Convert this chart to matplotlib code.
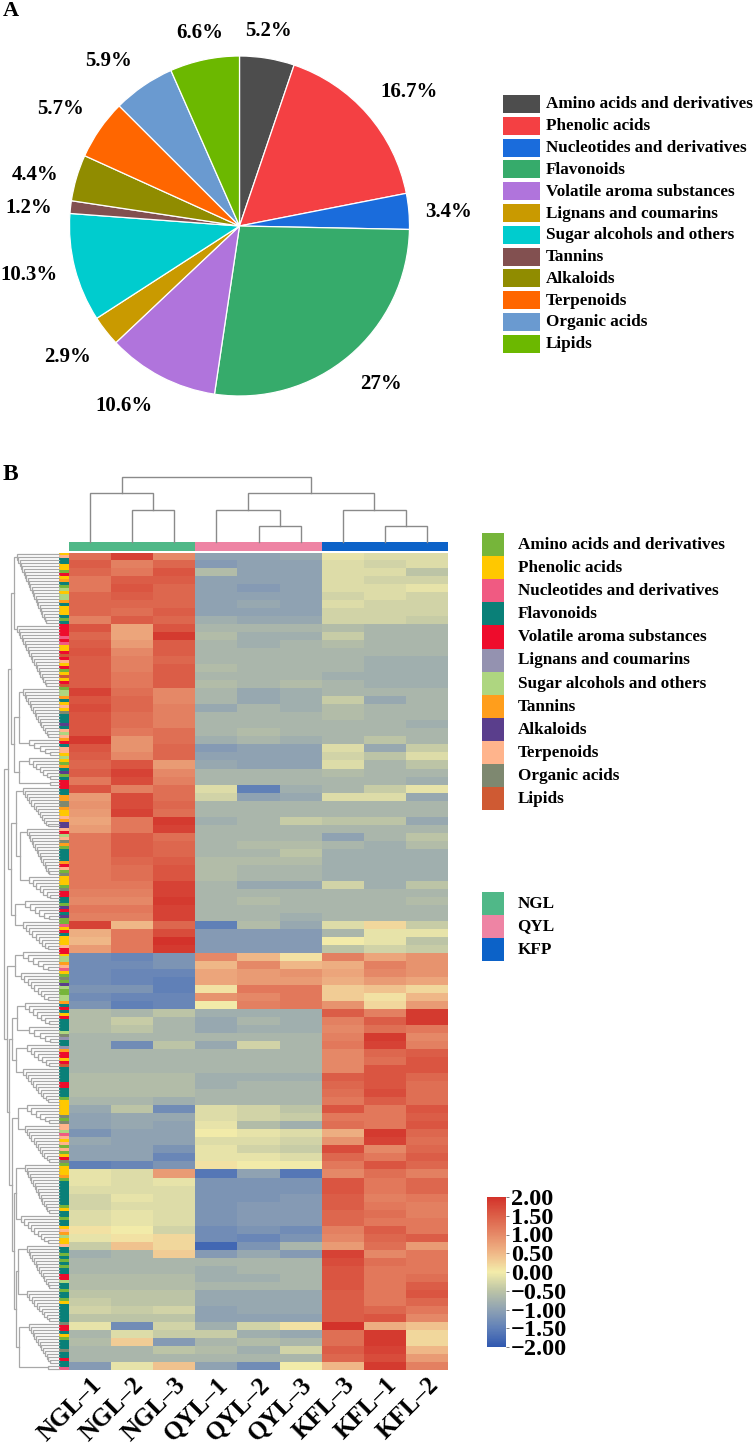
import numpy as np
import matplotlib
matplotlib.use('Agg')
import matplotlib.pyplot as plt
from matplotlib.colors import LinearSegmentedColormap, ListedColormap
from matplotlib.patches import Rectangle
from matplotlib.transforms import ScaledTranslation

plt.rcParams['font.family'] = ['Liberation Serif', 'DejaVu Serif']
plt.rcParams['font.weight'] = 'bold'

W, H = 754, 1446

# panel A data
classes = ['Amino acids and derivatives', 'Phenolic acids', 'Nucleotides and derivatives',
           'Flavonoids', 'Volatile aroma substances', 'Lignans and coumarins',
           'Sugar alcohols and others', 'Tannins', 'Alkaloids', 'Terpenoids',
           'Organic acids', 'Lipids']
percent = [5.2, 16.7, 3.4, 27, 10.6, 2.9, 10.3, 1.2, 4.4, 5.7, 5.9, 6.6]
pie_colors = ['#4d4d4d', '#f44043', '#1a6cdc', '#36ab6b', '#b074dc', '#c99a00',
              '#00ccce', '#825050', '#908c00', '#ff6600', '#6a9ad0', '#6cb800']

# panel B data, one list per stretch of rows
samples = ['NGL–1', 'NGL–2', 'NGL–3', 'QYL–1', 'QYL–2', 'QYL–3', 'KFL–3', 'KFL–1', 'KFL–2']
rows_top = [
    [1.3, 1.8, 1.0, -1.0, -1.0, -0.9, -0.1, -0.2, -0.2],
    [1.5, 1.1, 1.4, -1.1, -1.0, -1.0, -0.2, -0.3, -0.2],
    [1.4, 1.2, 1.6, -0.6, -1.0, -1.0, -0.2, -0.2, -0.5],
    [1.2, 1.5, 1.5, -1.0, -1.0, -1.0, -0.2, -0.3, -0.3],
    [1.2, 1.6, 1.4, -1.0, -1.1, -1.0, -0.2, -0.2, -0.1],
    [1.4, 1.5, 1.4, -1.0, -1.0, -1.0, -0.3, -0.2, -0.3],
    [1.4, 1.4, 1.4, -1.0, -0.9, -1.0, -0.2, -0.3, -0.3],
    [1.4, 1.3, 1.5, -1.0, -1.0, -1.0, -0.3, -0.3, -0.3],
    [1.1, 1.5, 1.4, -0.8, -0.9, -0.9, -0.3, -0.3, -0.4],
]
rows_ngl_a = [
    [1.6, 0.7, 1.6, -0.7, -0.7, -0.7, -0.6, -0.7, -0.7],
    [1.4, 0.7, 1.9, -0.6, -0.8, -0.8, -0.4, -0.7, -0.7],
    [1.5, 0.8, 1.5, -0.7, -0.8, -0.7, -0.6, -0.7, -0.7],
    [1.6, 1.0, 1.5, -0.7, -0.7, -0.7, -0.7, -0.7, -0.7],
    [1.5, 1.1, 1.4, -0.7, -0.7, -0.7, -0.7, -0.8, -0.8],
    [1.5, 1.1, 1.5, -0.6, -0.7, -0.7, -0.7, -0.8, -0.8],
    [1.5, 1.2, 1.5, -0.7, -0.7, -0.7, -0.8, -0.8, -0.8],
    [1.5, 1.2, 1.5, -0.6, -0.7, -0.6, -0.7, -0.8, -0.8],
    [1.8, 1.3, 1.0, -0.7, -0.9, -0.8, -0.7, -0.7, -0.7],
    [1.6, 1.4, 1.0, -0.7, -0.9, -0.8, -0.4, -0.9, -0.7],
    [1.7, 1.4, 1.1, -0.9, -0.7, -0.8, -0.6, -0.7, -0.7],
    [1.6, 1.3, 1.1, -0.7, -0.7, -0.7, -0.6, -0.7, -0.7],
    [1.6, 1.3, 1.1, -0.7, -0.7, -0.7, -0.7, -0.7, -0.8],
    [1.6, 1.2, 1.3, -0.7, -0.6, -0.7, -0.7, -0.7, -0.7],
]
rows_ngl_b = [
    [1.9, 0.9, 1.3, -0.8, -0.7, -0.8, -0.7, -0.5, -0.7],
    [1.6, 0.9, 1.4, -1.1, -1.0, -1.0, -0.2, -0.9, -0.4],
    [1.5, 1.0, 1.4, -1.0, -1.0, -1.0, -0.3, -0.5, -0.2],
    [1.4, 1.6, 0.8, -0.9, -1.0, -1.0, -0.2, -0.7, -0.5],
    [1.5, 1.8, 1.0, -0.7, -0.7, -0.7, -0.6, -0.7, -0.7],
    [1.2, 1.7, 1.1, -0.7, -0.7, -0.7, -0.7, -0.7, -0.8],
    [1.6, 1.1, 1.3, -0.2, -1.5, -0.8, -0.7, -0.4, -0.1],
    [0.8, 1.7, 1.3, -0.3, -1.0, -0.9, -0.2, -0.2, -0.9],
    [0.9, 1.7, 1.4, -0.7, -0.7, -0.7, -0.7, -0.7, -0.7],
    [0.8, 1.8, 1.3, -0.7, -0.7, -0.7, -0.7, -0.7, -0.7],
    [0.7, 1.2, 1.9, -0.8, -0.7, -0.4, -0.5, -0.5, -0.9],
    [0.8, 1.2, 1.8, -0.7, -0.7, -0.7, -0.7, -0.7, -0.7],
    [1.2, 1.5, 1.3, -0.7, -0.7, -0.7, -1.0, -0.7, -0.5],
    [1.2, 1.5, 1.4, -0.7, -0.6, -0.6, -0.7, -0.8, -0.6],
    [1.2, 1.5, 1.4, -0.7, -0.7, -0.5, -0.8, -0.8, -0.8],
    [1.2, 1.4, 1.5, -0.6, -0.6, -0.6, -0.8, -0.8, -0.8],
    [1.2, 1.3, 1.6, -0.6, -0.7, -0.7, -0.8, -0.8, -0.8],
    [1.2, 1.3, 1.6, -0.6, -0.7, -0.7, -0.8, -0.8, -0.8],
    [1.2, 1.2, 1.8, -0.7, -0.9, -0.9, -0.3, -0.8, -0.5],
    [1.1, 1.1, 1.8, -0.7, -0.7, -0.7, -0.7, -0.7, -0.7],
    [1.0, 1.0, 1.9, -0.7, -0.6, -0.7, -0.7, -0.7, -0.6],
    [1.2, 1.2, 1.8, -0.7, -0.7, -0.7, -0.7, -0.7, -0.7],
    [1.1, 1.1, 1.8, -0.7, -0.7, -0.8, -0.7, -0.7, -0.7],
    [1.8, 0.5, 1.4, -1.5, -0.6, -0.9, -0.2, 0.2, -0.4],
    [0.6, 1.2, 1.7, -1.1, -1.1, -1.1, -0.7, -0.1, -0.1],
    [0.5, 1.2, 2.0, -1.1, -1.1, -1.1, -0.0, -0.1, -0.5],
    [0.8, 1.2, 1.9, -1.1, -1.1, -1.1, -0.5, -0.3, -0.4],
]
rows_blue = [
    [-1.3, -1.4, -1.2, 1.0, 0.5, 0.1, 1.1, 0.7, 0.9],
    [-1.3, -1.3, -1.2, 0.5, 1.0, 0.5, 0.6, 1.1, 0.9],
    [-1.3, -1.4, -1.4, 0.7, 0.8, 0.9, 0.7, 1.0, 0.9],
    [-1.3, -1.4, -1.5, 0.7, 0.8, 0.8, 0.6, 0.8, 0.7],
    [-1.2, -1.2, -1.5, 0.1, 1.2, 1.2, 0.3, 0.4, 0.2],
    [-1.3, -1.4, -1.4, 0.9, 1.0, 1.2, 0.3, 0.1, 0.5],
    [-1.2, -1.5, -1.4, 0.0, 1.1, 1.2, 0.9, 0.2, 0.8],
]
rows_kfl_a = [
    [-0.6, -0.7, -0.5, -0.8, -0.8, -0.8, 1.5, 1.1, 1.9],
    [-0.6, -0.4, -0.7, -0.9, -0.7, -0.8, 1.1, 1.5, 1.9],
    [-0.6, -0.5, -0.7, -0.9, -0.8, -0.8, 1.0, 1.3, 1.2],
    [-0.7, -0.7, -0.7, -0.7, -0.7, -0.7, 1.1, 1.9, 1.0],
    [-0.7, -1.3, -0.5, -0.9, -0.3, -0.7, 1.2, 1.8, 1.1],
    [-0.7, -0.7, -0.7, -0.7, -0.7, -0.7, 1.0, 1.4, 1.5],
    [-0.7, -0.7, -0.7, -0.7, -0.7, -0.7, 1.0, 1.3, 1.6],
    [-0.7, -0.7, -0.7, -0.7, -0.7, -0.7, 1.0, 1.6, 1.6],
    [-0.6, -0.6, -0.6, -0.8, -0.8, -0.8, 1.5, 1.6, 1.4],
    [-0.6, -0.6, -0.6, -0.8, -0.7, -0.7, 1.4, 1.6, 1.3],
    [-0.6, -0.6, -0.6, -0.7, -0.7, -0.7, 1.3, 1.7, 1.3],
    [-0.7, -0.7, -0.8, -0.7, -0.7, -0.7, 1.2, 1.5, 1.3],
    [-0.9, -0.5, -1.3, -0.2, -0.3, -0.5, 1.6, 1.2, 1.6],
    [-1.0, -0.9, -0.9, -0.2, -0.3, -0.4, 1.2, 1.2, 1.5],
    [-1.0, -0.9, -1.0, -0.1, -0.6, -0.8, 1.3, 1.2, 1.6],
    [-1.2, -1.0, -1.0, -0.0, -0.1, -0.2, 0.6, 1.9, 1.4],
    [-0.9, -1.0, -1.0, -0.2, -0.2, -0.3, 0.9, 1.8, 1.3],
    [-1.0, -1.0, -1.2, -0.1, -0.3, -0.4, 1.7, 1.0, 1.4],
    [-1.0, -1.0, -1.4, -0.1, -0.1, -0.2, 1.4, 1.2, 1.5],
    [-1.5, -1.4, -1.2, 0.1, -0.0, -0.0, 1.2, 1.6, 1.4],
]
rows_kfl_b = [
    [-0.1, -0.2, 0.8, -1.6, -1.0, -1.6, 1.0, 1.3, 1.1],
    [-0.1, -0.2, -0.1, -1.2, -1.2, -1.2, 1.6, 1.2, 1.4],
    [-0.2, -0.2, -0.2, -1.2, -1.2, -1.2, 1.6, 1.2, 1.4],
    [-0.3, -0.1, -0.2, -1.2, -1.2, -1.1, 1.5, 1.1, 1.2],
    [-0.3, -0.2, -0.2, -1.2, -1.1, -1.1, 1.5, 1.2, 1.1],
    [-0.2, -0.1, -0.2, -1.2, -1.1, -1.1, 1.4, 1.3, 1.1],
    [-0.2, -0.1, -0.2, -1.2, -1.1, -1.1, 1.4, 1.2, 1.2],
    [0.1, 0.0, -0.3, -1.3, -1.2, -1.3, 1.1, 1.5, 1.2],
    [-0.1, 0.1, 0.2, -1.3, -1.4, -1.2, 1.0, 1.4, 1.5],
    [-0.4, 0.4, 0.2, -1.8, -1.2, -0.7, 0.8, 1.3, 0.8],
    [-0.8, -0.7, 0.3, -1.1, -0.9, -1.1, 1.8, 1.0, 1.2],
    [-0.7, -0.7, -0.7, -0.7, -0.7, -0.7, 1.7, 1.3, 1.2],
    [-0.7, -0.7, -0.7, -0.8, -0.7, -0.7, 1.6, 1.2, 1.2],
    [-0.6, -0.6, -0.6, -0.8, -0.8, -0.7, 1.6, 1.2, 1.3],
    [-0.6, -0.6, -0.6, -0.7, -0.7, -0.7, 1.6, 1.2, 1.5],
    [-0.5, -0.5, -0.5, -0.9, -0.9, -0.9, 1.5, 1.2, 1.6],
    [-0.4, -0.5, -0.5, -0.9, -0.9, -0.9, 1.5, 1.2, 1.4],
    [-0.3, -0.4, -0.3, -1.0, -0.9, -0.9, 1.5, 1.4, 1.2],
    [-0.5, -0.5, -0.5, -1.0, -1.0, -1.0, 1.5, 1.6, 1.0],
    [-0.1, -1.3, -0.3, -0.8, -0.3, 0.1, 2.0, 0.6, 0.4],
    [-0.7, -0.2, -0.4, -0.4, -0.8, -0.9, 1.3, 1.9, 0.2],
    [-0.6, 0.3, -1.1, -0.7, -0.6, -0.7, 1.3, 1.9, 0.2],
    [-0.7, -0.7, -0.5, -0.6, -0.8, -0.3, 1.5, 1.8, 0.5],
    [-0.7, -0.7, -0.7, -0.7, -0.7, -0.7, 1.4, 1.7, 0.8],
    [-1.1, -0.1, 0.4, -1.0, -1.3, 0.0, 0.5, 1.9, 1.1],
]

# class of each leaf in the side strip, one letter per leaf
# a amino, p phenolic, n nucleotide, f flavonoid, v volatile, l lignan,
# s sugar, t tannin, k alkaloid, r terpenoid, o organic, i lipid
strip_a = 'prffppavptfaspsstfpppfaf'
strip_b = 'vvvvnvnppvivrpvapipvi'
strip_c = 'asstfprpofffkfrsr'
strip_d = 'tvfrrpspatfkafvvvffttootpprtkk'
strip_e = 'rvsrotafffftvraopppaovvffakvfkaf'[:31]
strip_f = 'anpvfppprv'
strip_g = 'vpsstrnpaoaksaass'
strip_h = 'tfvfpvffffsolfflt' + 'vvpvi'
strip_i = 'fffffvvfffappppp' + 'oao'
strip_j = 'rrsnrprarapvo'
strip_k = 'apppta' + 'ffffffff' + 'apffaffprtspp'
strip_l = 'rffafafaffvvsffaffap' + 'ffffff'
strip_m = 'ovvfpafffoffvffn'
row_strip = (strip_a + strip_b + strip_c + strip_d + strip_e + strip_f + strip_g
             + strip_h + strip_i + strip_j + strip_k + strip_l + strip_m)
class_codes = 'apnfvlstkroi'
strip_colors = ['#76b53a', '#ffc800', '#f05a82', '#0a8078', '#ee0c2c', '#9492b0',
                '#aed680', '#ff9e1c', '#5a3e8c', '#ffb48c', '#7e8870', '#cf5a33']
groups = ['NGL', 'QYL', 'KFP']
group_colors = ['#50b888', '#ee84a4', '#0c62c8']
group_of_sample = [0, 0, 0, 1, 1, 1, 2, 2, 2]
cbar_ticks = [2, 1.5, 1, 0.5, 0, -0.5, -1, -1.5, -2]
cbar_labels = ['2.00', '1.50', '1.00', '0.50', '0.00', '−0.50', '−1.00', '−1.50', '−2.00']

# dendrograms: [height, child, child], (n, height) = ladder of n leaves
L = (1, 0)
col_tree = [4, [3, L, [2, L, L]], [3, [2, L, [1, L, L]], [2, L, [1, L, L]]]]
row_tree_a = [51,
              [48, [45, (24, 42), (21, 42)],
               [45, [40, (17, 36), (6, 30)], [40, (8, 30), (2, 30)]]],
              [48, [43, (14, 36), [39, (16, 32), (8, 30)]],
               [44, (7, 34), (10, 36)]]]
row_tree_b = [52,
              [44, (7, 36), (10, 38)],
              [50, [47, [42, (8, 34), (6, 30)], [43, (8, 32), (12, 36)]],
               [47, [41, (7, 32), (13, 34)],
                [45, [43, (17, 34), (10, 38)],
                 [43, [41, (15, 32), (11, 32)], [40, (14, 30), (2, 38)]]]]]]
row_tree = [55, row_tree_a, row_tree_b]

heat = np.array(rows_top + rows_ngl_a + rows_ngl_b + rows_blue + rows_kfl_a + rows_kfl_b)
cmap = LinearSegmentedColormap.from_list('heat', ['#3058b0', '#6080b8', '#8fa2b3', '#bcc4a6', '#f3ecaa',
                                                  '#f0b888', '#e68a68', '#dc5f48', '#d3322a'])


def px_axes(x0, y0, x1, y1):
    # axes from pixel box, y counted from top of the picture
    return fig.add_axes([x0 / W, 1 - y1 / H, (x1 - x0) / W, (y1 - y0) / H])


def link(ax, h0, p0, h1, p1, h, horizontal, **kw):
    hs = [h0, h, h, h1]
    ps = [p0, p0, p1, p1]
    if horizontal:
        ax.plot(hs, ps, clip_on=False, solid_joinstyle='miter', **kw)
    else:
        ax.plot(ps, hs, clip_on=False, solid_joinstyle='miter', **kw)


def draw_tree(ax, node, cursor, horizontal, **kw):
    # returns position, height, next free leaf
    if isinstance(node, tuple):
        n, top = node
        ys = cursor + np.arange(n) + 0.5
        pos, cur = ys[-1], 0
        if n > 1:
            steps = np.linspace(top * 0.3, top, n - 1)
            for i in range(n - 2, -1, -1):
                link(ax, 0, ys[i], cur, pos, steps[n - 2 - i], horizontal, **kw)
                pos, cur = (ys[i] + pos) / 2, steps[n - 2 - i]
        return pos, cur, cursor + n
    p0, h0, cursor = draw_tree(ax, node[1], cursor, horizontal, **kw)
    p1, h1, cursor = draw_tree(ax, node[2], cursor, horizontal, **kw)
    link(ax, h0, p0, h1, p1, node[0], horizontal, **kw)
    return (p0 + p1) / 2, node[0], cursor


fig = plt.figure(figsize=(W / 100, H / 100), dpi=100)

# overlay in pixels for panel letters, legends and the pie labels
over = fig.add_axes([0, 0, 1, 1], zorder=5)
over.set_xlim(0, W)
over.set_ylim(H, 0)
over.axis('off')

# A) pie
ax_pie = px_axes(69.5, 56, 409.5, 396)
ax_pie.pie(percent, colors=pie_colors, startangle=90, counterclock=False,
           wedgeprops={'edgecolor': 'white', 'linewidth': 0.9})
ax_pie.set_xlim(-1, 1)
ax_pie.set_ylim(-1, 1)

label_pos = [(268, 31), (409, 92), (449, 212), (381, 384), (124, 406), (68, 357),
             (28.5, 275), (29, 208), (35, 175), (61, 109), (109, 61), (200, 33)]
for val, (lx, ly) in zip(percent, label_pos):
    over.text(lx, ly, f'{val}%', fontsize=15, ha='center', va='center')

for i, name in enumerate(classes):
    over.add_patch(Rectangle((503, 95 + 21.8 * i), 37, 18, color=pie_colors[i], lw=0))
    over.text(546, 104.5 + 21.8 * i, name, fontsize=12.3, ha='left', va='center')

over.text(3, 11, 'A', fontsize=16, ha='left', va='center')
over.text(3, 475, 'B', fontsize=17, ha='left', va='center')

# B) clustered heatmap
x0, x1, y0, y1 = 69, 448, 552.5, 1370
ax_heat = px_axes(x0, y0, x1, y1)
im = ax_heat.imshow(heat, cmap=cmap, vmin=-2, vmax=2, aspect='auto', interpolation='nearest')
ax_heat.set_yticks([])
ax_heat.set_xticks(range(len(samples)))
ax_heat.set_xticklabels(samples, fontsize=18, rotation=45, ha='right', va='center', rotation_mode='anchor')
ax_heat.tick_params(axis='x', length=0, pad=8)
shift = ScaledTranslation(0.08, 0, fig.dpi_scale_trans)
for lab in ax_heat.get_xticklabels():
    lab.set_transform(lab.get_transform() + shift)
for s in ax_heat.spines.values():
    s.set_visible(False)

ax_bar = px_axes(x0, 542, x1, 551.5)
ax_bar.imshow([group_of_sample], cmap=ListedColormap(group_colors), aspect='auto', interpolation='nearest')
ax_bar.axis('off')

ax_strip = px_axes(59, y0, 68.5, y1)
strip_idx = [[class_codes.index(c)] for c in row_strip]
ax_strip.imshow(strip_idx, cmap=ListedColormap(strip_colors), vmin=0, vmax=11, aspect='auto', interpolation='nearest')
ax_strip.axis('off')

ax_top = px_axes(x0, 477, x1, 542)
ax_top.set_xlim(0, len(samples))
ax_top.set_ylim(0, 4)
draw_tree(ax_top, col_tree, 0, False, color='#8a8a8a', lw=1.0)
ax_top.axis('off')

ax_left = px_axes(0, y0, 59, y1)
ax_left.set_xlim(59, 0)
ax_left.set_ylim(len(row_strip), 0)
draw_tree(ax_left, row_tree, 0, True, color='#a8a8a8', lw=0.9)
ax_left.axis('off')

# class and group legends
for i, name in enumerate(classes):
    over.add_patch(Rectangle((482, 533 + 23.1 * i), 22, 23.1, color=strip_colors[i], lw=0))
    over.text(517.5, 545 + 23.1 * i, name, fontsize=12.3, ha='left', va='center')
for i, name in enumerate(groups):
    over.add_patch(Rectangle((482, 892 + 23 * i), 22, 23, color=group_colors[i], lw=0))
    over.text(517.5, 903.5 + 23 * i, name, fontsize=12.3, ha='left', va='center')

# colour bar
cax = px_axes(486.5, 1197, 506, 1347)
cb = fig.colorbar(im, cax=cax, ticks=cbar_ticks)
cb.ax.set_yticklabels(cbar_labels, fontsize=17.5)
cb.ax.tick_params(length=2, width=0.6, pad=1.5, color='#666666')
cb.outline.set_visible(False)

fig.savefig('out.png', dpi=100)
